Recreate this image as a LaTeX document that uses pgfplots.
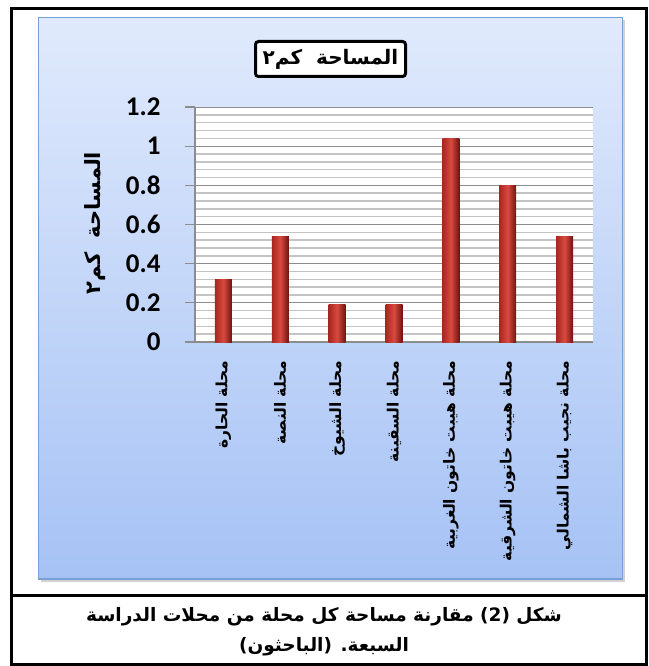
\documentclass[border=0pt]{standalone}
\usepackage{fontspec}
\usepackage{pgfplots}
\pgfplotsset{compat=1.18}
\TeXXeTstate=1
\newfontfamily\arabicfont[Script=Arabic]{DejaVu Sans}
\newfontfamily\calibri{Carlito}
\definecolor{bgtop}{HTML}{E0EAFC}
\definecolor{bgbot}{HTML}{A6C2F5}
\definecolor{bordblue}{HTML}{7A9FD6}
\definecolor{bardark}{HTML}{6E1210}
\definecolor{barmid}{HTML}{D84A3F}
\definecolor{barleft}{HTML}{A8261F}
\definecolor{gridmaj}{HTML}{8C8C8C}
\definecolor{gridmin}{HTML}{C4C4C4}
\pgfplotsset{redbar/.style={ybar, bar shift=0pt, draw=none, left color=barleft, right color=bardark, middle color=barmid}}
\begin{document}
\begin{tikzpicture}[x=1pt,y=1pt]
\path[use as bounding box] (0,0) rectangle (648,-666);
% outer frame
\draw[line width=3pt] (11.5,-8.5) rectangle (646.5,-664.5);
\draw[line width=3pt] (11.5,-595.5) -- (646.5,-595.5);
% chart area
\fill[gray!35] (41,-20) rectangle (625,-582);
\shade[top color=bgtop, bottom color=bgbot] (38.5,-17.5) rectangle (622.5,-579);
\draw[bordblue, line width=1.5pt] (38.5,-17.5) rectangle (622.5,-579);
% title box
\node[draw, line width=3pt, rounded corners=3pt, fill=white, minimum width=150pt, minimum height=35pt, inner sep=0pt,
      font=\arabicfont\bfseries\fontsize{20}{22}\selectfont] at (330.5,-59) {\beginR المساحة\ \ كم٢\endR};
% y label
\node[rotate=90, font=\arabicfont\bfseries\fontsize{21}{23}\selectfont] at (95,-223) {\beginR المساحة\ \ كم٢\endR};
\begin{axis}[
  at={(195pt,-342pt)}, anchor=south west,
  scale only axis, width=398pt, height=235pt,
  xmin=-0.5, xmax=6.5, ymin=0, ymax=1.2,
  ytick={0,0.2,0.4,0.6,0.8,1,1.2},
  minor y tick num=4,
  ymajorgrids, yminorgrids,
  major grid style={gridmaj, line width=1pt},
  minor grid style={gridmin, line width=1.4pt},
  axis x line*=bottom, axis y line*=left,
  axis line style={gridmaj, line width=1.2pt, -},
  xtick={0,...,6},
  xticklabels={{\beginR محلة الحارة\endR},{\beginR محلة النصة\endR},{\beginR محلة الشيوخ\endR},{\beginR محلة السقينة\endR},{\beginR محلة هيبت خاتون الغربية\endR},{\beginR محلة هيبت خاتون الشرقية\endR},{\beginR محلة نجيب باشا الشمالي\endR}},
  x tick style={draw=none},
  y tick style={gridmaj, line width=1.2pt},
  minor y tick style={draw=none},
  tick align=outside, major tick length=10pt,
  axis background/.style={fill=white},
  /pgf/number format/assume math mode=true,
  yticklabel style={font=\calibri\bfseries\fontsize{27}{30}\selectfont},
  yticklabel shift=21pt,
  xticklabel shift=5pt,
  xticklabel style={rotate=90, anchor=east, font=\arabicfont\bfseries\fontsize{15.5}{18}\selectfont},
  bar width=17pt,
]
\addplot[redbar] coordinates {(0,0.32)};
\addplot[redbar] coordinates {(1,0.54)};
\addplot[redbar] coordinates {(2,0.19)};
\addplot[redbar] coordinates {(3,0.19)};
\addplot[redbar] coordinates {(4,1.04)};
\addplot[redbar] coordinates {(5,0.80)};
\addplot[redbar] coordinates {(6,0.54)};
\end{axis}
% caption
\node[font=\arabicfont\bfseries\fontsize{18.5}{22}\selectfont] at (324,-617) {\beginR شكل \beginL(2)\endL{} مقارنة مساحة كل محلة من محلات الدراسة\endR};
\node[font=\arabicfont\bfseries\fontsize{18.5}{22}\selectfont] at (324,-647) {\beginR السبعة. (الباحثون)\endR};
\end{tikzpicture}
\end{document}
